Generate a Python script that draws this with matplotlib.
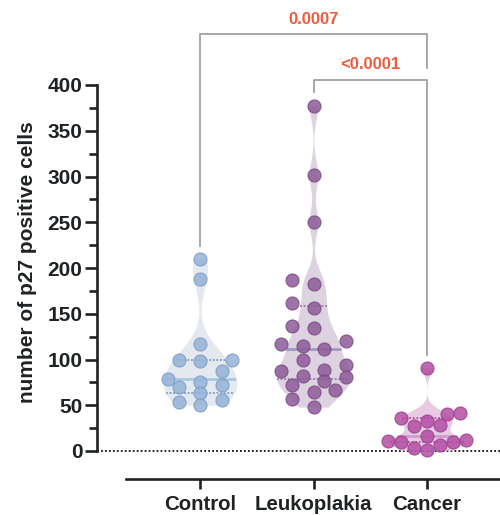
import numpy as np
import matplotlib
matplotlib.use('Agg')
import matplotlib.pyplot as plt
from matplotlib.ticker import MultipleLocator

# ---- data ----
categories = ['Control', 'Leukoplakia', 'Cancer']
control = [210, 188, 117, 99, 99, 98, 87, 79, 75, 70, 72, 63, 50, 54, 56]
leukoplakia = [377, 302, 250, 187, 182, 162, 156, 134, 137, 120, 115, 117, 111,
               99, 88, 87, 94, 81, 76, 72, 82, 65, 67, 57, 48]
cancer = [91, 40.5, 41, 27, 28, 32.5, 36, 16, 11, 6.6, 10, 12, 10, 3, 1]
p_labels = ['0.0007', '<0.0001']
y_ticks = list(range(0, 401, 50))

groups = [control, leukoplakia, cancer]

# ---- styles ----
fill_cols = ['#e4e8ef', '#ddd2e0', '#e7cbe4']
pt_face = ['#94b3d6', '#8d5a98', '#b34ea4']
pt_edge = ['#7b9cc6', '#7a4a86', '#9d3e90']
q_cols = ['#7e9ac6', '#8c7aaa', '#a9559c']
med_cols = ['#a9c9df', '#a296c2', '#cf9cc8']
bws = [17, 15, 7.5]
dhs = [21.5, 21.5, 13.0]
max_steps = [1.5, 1.5, 3.0]
FONT = 'Liberation Sans'
DARK = '#1e2224'

W, H = 500, 515
fig = plt.figure(figsize=(W / 100, H / 100), dpi=100)
ax_l, ax_r, ax_b, ax_t = 97, 500, 451, 85
ax = fig.add_axes([ax_l / W, 1 - ax_b / H, (ax_r - ax_l) / W, (ax_b - ax_t) / H])

spacing_px = 113.5
x0 = -(200 - ax_l) / spacing_px
x1 = x0 + (ax_r - ax_l) / spacing_px
ax.set_xlim(x0, x1)
ax.set_ylim(0, 400)
ppx = spacing_px
ppy = (ax_b - ax_t) / 400.0


def swarm(values, dh, dv, max_step):
    """Place points on a half-step column grid, nearest to the centre
    position that does not collide with points already placed."""
    vals = np.asarray(values, float)
    order = np.argsort(vals)
    placed = []
    xs = np.zeros(len(vals))
    n = int(round(max_step * 2))
    steps = sorted([k * 0.5 for k in range(-n, n + 1)], key=lambda s: (abs(s), s))
    for i in order:
        y = vals[i] * ppy
        best, best_score = 0.0, -1.0
        for s in steps:
            c = s * dh
            score = min([((c - px) / dh) ** 2 + ((y - py) / dv) ** 2 for px, py in placed] or [9.0])
            if score >= 0.999:
                best = c
                break
            if score > best_score + 1e-9:
                best, best_score = c, score
        xs[i] = best
        placed.append((best, y))
    return xs / ppx


half_w = 0.325
for gi, vals in enumerate(groups):
    v = np.asarray(vals, float)
    ys = np.linspace(v.min(), v.max(), 400)
    dens = np.exp(-0.5 * ((ys[:, None] - v[None, :]) / bws[gi]) ** 2).sum(axis=1)
    hw = dens / dens.max() * half_w
    ax.fill_betweenx(ys, gi - hw, gi + hw, color=fill_cols[gi], lw=0, zorder=1, clip_on=False)
    q1, med, q3 = np.percentile(v, [25, 50, 75], method='weibull')
    for q, ls, col, lw in [(q1, (0, (1, 1)), q_cols[gi], 1.3), (q3, (0, (1, 1)), q_cols[gi], 1.3),
                           (med, '-', med_cols[gi], 2.0)]:
        w = np.interp(q, ys, hw)
        ax.plot([gi - w, gi + w], [q, q], ls=ls, color=col, lw=lw, zorder=2,
                solid_capstyle='butt')
    xo = swarm(v, dhs[gi], 13.0, max_steps[gi])
    ax.scatter(gi + xo, v, s=88, facecolor=pt_face[gi], edgecolor=pt_edge[gi],
               linewidth=0.8, alpha=0.85, zorder=3, clip_on=False)

# zero dotted line
ax.axhline(0, color='#111111', lw=1.3, ls=(0, (1, 1.2)), zorder=0.5, clip_on=False)

# significance brackets
br_col = '#a0a0a0'
ax.plot([0, 0, 2, 2], [224, 456, 456, 419], color=br_col, lw=1.3, clip_on=False, zorder=4)
ax.plot([1, 1, 2, 2], [392, 405.5, 405.5, 105], color=br_col, lw=1.3, clip_on=False, zorder=4)
ax.text(1.0, 472, p_labels[0], ha='center', va='center', color='#ef5a3c',
        fontsize=12, fontweight='bold', family=FONT, clip_on=False)
ax.text(1.5, 422, p_labels[1], ha='center', va='center', color='#ef5a3c',
        fontsize=12, fontweight='bold', family=FONT, clip_on=False)

# axes styling
for s in ['top', 'right']:
    ax.spines[s].set_visible(False)
ax.spines['left'].set_bounds(0, 400)
ax.spines['left'].set_linewidth(1.9)
ax.spines['left'].set_color(DARK)
ax.spines['bottom'].set_position(('outward', 20))
ax.spines['bottom'].set_bounds((126 - 200) / spacing_px, x1)
ax.spines['bottom'].set_linewidth(1.9)
ax.spines['bottom'].set_color(DARK)

ax.set_yticks(y_ticks)
ax.yaxis.set_minor_locator(MultipleLocator(25))
ax.set_yticklabels([str(t) for t in y_ticks])
ax.set_xticks(range(len(categories)))
ax.set_xticklabels(categories)
ax.tick_params(axis='y', which='major', length=8.5, width=1.9, color=DARK, pad=2,
               labelsize=15, labelcolor=DARK)
ax.tick_params(axis='y', which='minor', length=5.5, width=1.9, color=DARK)
ax.tick_params(axis='x', which='major', length=7, width=1.9, color=DARK, pad=5,
               labelsize=14.7, labelcolor=DARK)
for lab in ax.get_xticklabels() + ax.get_yticklabels():
    lab.set_fontfamily(FONT)
    lab.set_fontweight('bold')

fig.text(28 / W, 1 - 262 / H, 'number of p27 positive cells', rotation=90,
         ha='center', va='center', fontsize=15, fontweight='bold', family=FONT, color=DARK)

fig.savefig('out.png', dpi=100, facecolor='white')
